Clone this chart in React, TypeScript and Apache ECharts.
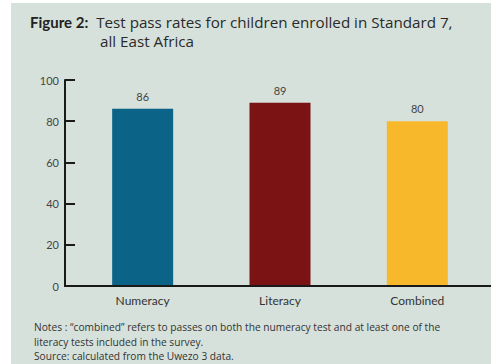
import React, { useEffect, useRef } from "react";
import * as echarts from "echarts";

const categories = ["Numeracy", "Literacy", "Combined"];
const passRates = [86, 89, 80];
const barColors = ["#0b6487", "#7b1315", "#f8b82c"];
const yTicks = { min: 0, max: 100, interval: 20 };
const titleBold = "Figure 2:";
const titleLine1 = "Test pass rates for children enrolled in Standard 7,";
const titleLine2 = "all East Africa";
const notes = [
  "Notes : \u201ccombined\u201d refers to passes on both the numeracy test and at least one of the",
  "literacy tests included in the survey.",
  "Source: calculated from the Uwezo 3 data.",
];

const FONT = "Lato, 'Open Sans', sans-serif";
const FONT2 = "'Open Sans', Lato, sans-serif";
const BG = "#d6e1db";

export default function App() {
  const ref = useRef<HTMLDivElement>(null);
  useEffect(() => {
    document.body.style.margin = "0";
    document.body.style.overflow = "hidden";
    if (!ref.current) return;
    const chart = echarts.init(ref.current, undefined, { renderer: "svg" });
    chart.setOption({
      animation: false,
      backgroundColor: BG,
      textStyle: { fontFamily: FONT },
      title: [
        {
          text: `{b|${titleBold}}{n|  ${titleLine1}}`,
          left: 25,
          top: 9,
          textStyle: {
            rich: {
              b: { fontFamily: FONT, fontSize: 15, fontWeight: "bold", color: "#222" },
              n: { fontFamily: FONT2, fontSize: 15.2, fontWeight: "normal", color: "#2a2a2a" },
            },
          },
        },
        {
          text: titleLine2,
          left: 95,
          top: 28,
          textStyle: { fontFamily: FONT2, fontSize: 15.2, fontWeight: "normal", color: "#2a2a2a" },
        },
        {
          text: notes.join("\n"),
          left: 29,
          top: 315,
          textStyle: {
            fontFamily: FONT2,
            fontSize: 10.2,
            fontWeight: "normal",
            color: "#333",
            lineHeight: 14.5,
          },
        },
      ],
      graphic: [
        {
          type: "rect",
          z: -10,
          silent: true,
          shape: { x: 0, y: 0, width: 11, height: 364 },
          style: { fill: "#ffffff" },
        },
        {
          type: "rect",
          z: -10,
          silent: true,
          shape: { x: 0, y: 0, width: 491, height: 3 },
          style: { fill: "#ffffff" },
        },
        {
          type: "line",
          z: 10,
          silent: true,
          shape: { x1: 64, y1: 286, x2: 491, y2: 286 },
          style: { stroke: "#1a1a1a", lineWidth: 2 },
        },
      ],
      grid: { left: 74, right: 5, top: 80, bottom: 78 },
      xAxis: {
        type: "category",
        data: categories,
        axisLine: { show: false },
        axisTick: { show: false },
        axisLabel: { color: "#333", fontSize: 12, margin: 8, fontFamily: FONT },
      },
      yAxis: {
        type: "value",
        min: yTicks.min,
        max: yTicks.max,
        interval: yTicks.interval,
        offset: 9,
        splitLine: { show: false },
        axisLine: { show: true, lineStyle: { color: "#1a1a1a", width: 2 } },
        axisTick: { show: true, inside: true, length: 10, lineStyle: { color: "#1a1a1a", width: 2 } },
        axisLabel: { color: "#444", fontSize: 11, margin: 6, fontFamily: FONT },
      },
      series: [
        {
          type: "bar",
          data: passRates.map((v, i) => ({ value: v, itemStyle: { color: barColors[i] } })),
          barWidth: 61,
          label: {
            show: true,
            position: "top",
            distance: 7,
            color: "#444",
            fontSize: 11,
            fontFamily: FONT,
          },
        },
      ],
    });
    return () => chart.dispose();
  }, []);
  return (
    <div
      ref={ref}
      style={{ position: "absolute", left: 0, top: 0, width: 491, height: 364 }}
    />
  );
}
